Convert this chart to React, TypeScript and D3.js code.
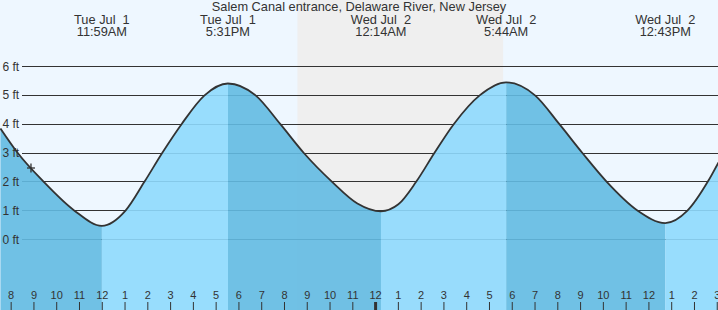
import React from "react";
import * as d3 from "d3";

const W = 718;
const H = 310;

// hours since Tue Jul 1 00:00
const tideHours = [7.53, 8.29, 9.43, 10.78, 11.983, 13.02, 13.85, 14.63, 15.48, 16.49, 17.517, 18.73, 19.82, 20.85, 22.09, 23.2, 24.233, 25.0, 25.78, 26.58, 27.43, 28.57, 29.733, 31.0, 32.07, 33.08, 34.15, 35.51, 36.717, 37.69, 38.58, 39.05];
const tideHeights = [3.85, 3, 2, 1, 0.47, 1, 2, 3, 4, 5, 5.41, 5, 4, 3, 2, 1.25, 0.98, 1.22, 2, 3, 4, 5, 5.45, 5, 4, 3, 2, 1, 0.57, 1, 2, 2.67];

const eventHours = [11.983, 17.517, 24.233, 29.733, 36.717];
const eventTypes = ["L", "H", "L", "H", "L"];
const eventDates = ["Tue Jul  1", "Tue Jul  1", "Wed Jul  2", "Wed Jul  2", "Wed Jul  2"];
const eventTimes = ["11:59AM", "5:31PM", "12:14AM", "5:44AM", "12:43PM"];

const nightStart = 20.57;
const nightEnd = 29.6;

const nowHour = 8.87;
const nowHeight = 2.48;

const yTicks = [0, 1, 2, 3, 4, 5, 6];
const yTickLabels = ["0 ft", "1 ft", "2 ft", "3 ft", "4 ft", "5 ft", "6 ft"];

const xTickHours = [8, 9, 10, 11, 12, 13, 14, 15, 16, 17, 18, 19, 20, 21, 22, 23, 24, 25, 26, 27, 28, 29, 30, 31, 32, 33, 34, 35, 36, 37, 38, 39];
const xTickLabels = ["8", "9", "10", "11", "12", "1", "2", "3", "4", "5", "6", "7", "8", "9", "10", "11", "12", "1", "2", "3", "4", "5", "6", "7", "8", "9", "10", "11", "12", "1", "2", "3"];
const midnightHour = 24;

const title = "Salem Canal entrance, Delaware River, New Jersey";

const FONT = "'Liberation Sans', Arial, sans-serif";

export default function App() {
  const x0 = 7.51;
  const x = d3.scaleLinear().domain([x0, x0 + W / 22.777]).range([0, W]);
  const y = d3.scaleLinear().domain([0, 6]).range([239.5, 66.5]);

  const data = tideHours.map((t, i) => ({ t, h: tideHeights[i] }));
  const area = d3
    .area<{ t: number; h: number }>()
    .x((d) => x(d.t))
    .y0(H + 2)
    .y1((d) => y(d.h))
    .curve(d3.curveMonotoneX);
  const line = d3
    .line<{ t: number; h: number }>()
    .x((d) => x(d.t))
    .y((d) => y(d.h))
    .curve(d3.curveMonotoneX);

  const bounds = [x.domain()[0] - 1, ...eventHours, x.domain()[1] + 1];
  const segments = bounds.slice(0, -1).map((a, i) => {
    const nextType = i < eventTypes.length ? eventTypes[i] : eventTypes[eventTypes.length - 1] === "L" ? "H" : "L";
    const rising = nextType === "H";
    return { a, b: bounds[i + 1], rising };
  });

  const areaPath = area(data) || "";

  return (
    <svg
      width={W}
      height={H}
      style={{ position: "fixed", left: 0, top: 0, display: "block" }}
      fontFamily={FONT}
    >
      <defs>
        {segments.map((s, i) => (
          <clipPath id={`seg${i}`} key={i}>
            <rect x={x(s.a)} y={0} width={x(s.b) - x(s.a)} height={H + 4} />
          </clipPath>
        ))}
      </defs>
      <rect x={0} y={0} width={W} height={H} fill="#eef7ff" />
      <rect x={x(nightStart)} y={0} width={x(nightEnd) - x(nightStart)} height={H} fill="#efefef" />

      {yTicks.map((v) => (
        <line key={v} x1={22} x2={W} y1={y(v)} y2={y(v)} stroke="#333" strokeWidth={1} shapeRendering="crispEdges" />
      ))}

      {segments.map((s, i) => (
        <path
          key={i}
          d={areaPath}
          clipPath={`url(#seg${i})`}
          fill={s.rising ? "rgb(142,217,253)" : "rgb(98,186,226)"}
          fillOpacity={0.9}
        />
      ))}

      <path d={line(data) || ""} fill="none" stroke="#333" strokeWidth={1.8} />

      {yTicks.map((v, i) => (
        <text key={v} x={2.5} y={y(v) + 4} fontSize={12} fill="#333">
          {yTickLabels[i]}
        </text>
      ))}

      <g stroke="#333" strokeWidth={1.3}>
        <line x1={x(nowHour) - 4} x2={x(nowHour) + 4} y1={y(nowHeight)} y2={y(nowHeight)} />
        <line x1={x(nowHour)} x2={x(nowHour)} y1={y(nowHeight) - 4.5} y2={y(nowHeight) + 4.5} />
      </g>

      {xTickHours.map((hr, i) => (
        <g key={i}>
          <line x1={x(hr)} x2={x(hr)} y1={302} y2={H} stroke="#333" strokeWidth={hr === midnightHour ? 3 : 1} />
          <text x={x(hr)} y={299} fontSize={11} textAnchor="middle" fill="#333">
            {xTickLabels[i]}
          </text>
        </g>
      ))}

      <text x={W / 2} y={11} fontSize={12.8} textAnchor="middle" fill="#333">
        {title}
      </text>
      {eventHours.map((t, i) => (
        <g key={i}>
          <text x={x(t)} y={24} fontSize={12.8} textAnchor="middle" fill="#333" style={{ whiteSpace: "pre" }}>
            {eventDates[i]}
          </text>
          <text x={x(t)} y={36} fontSize={12.8} textAnchor="middle" fill="#333">
            {eventTimes[i]}
          </text>
        </g>
      ))}
    </svg>
  );
}
